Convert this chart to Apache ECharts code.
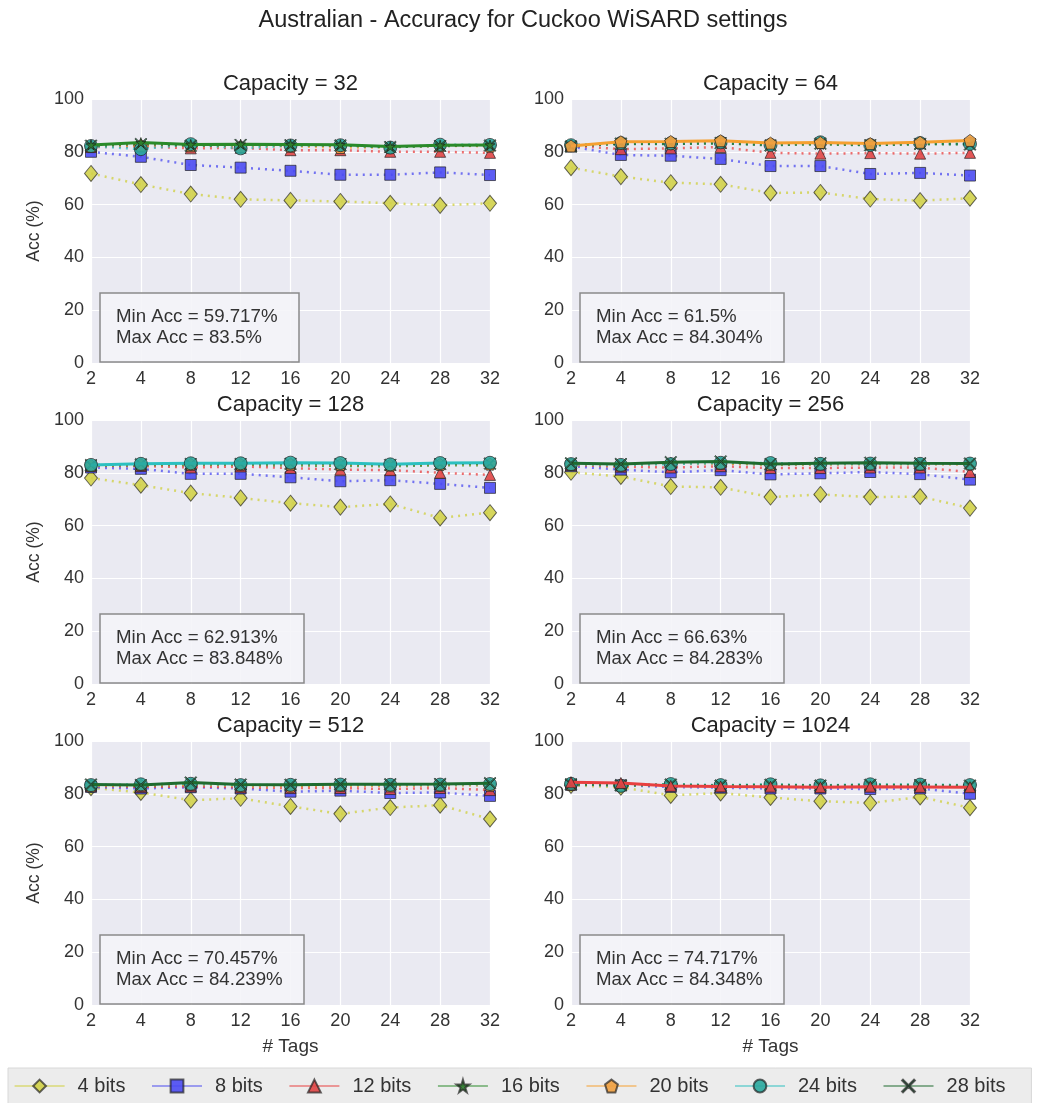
<!DOCTYPE html>
<html><head><meta charset="utf-8">
<script src="https://cdn.jsdelivr.net/npm/echarts@6/dist/echarts.min.js"></script>
<style>html,body{margin:0;padding:0;background:#fff}#c{width:1046px;height:1103px}</style>
</head><body><div id="c"></div><script>
// ---- data ----
const tags = ['2','4','8','12','16','20','24','28','32'];
const bitNames = ['4 bits','8 bits','12 bits','16 bits','20 bits','24 bits','28 bits'];
const capacities = [32, 64, 128, 256, 512, 1024];
// rows: 4,8,12,16,20,24,28 bits ; columns: tags
const cap32 = [
  [71.8, 67.6, 64.0, 62.0, 61.6, 61.2, 60.5, 59.717, 60.5],
  [80.0, 78.1, 75.0, 74.0, 72.8, 71.3, 71.3, 72.2, 71.2],
  [81.8, 82.0, 81.3, 81.5, 80.6, 80.6, 80.0, 80.0, 79.6],
  [82.6, 83.5, 82.8, 82.9, 82.8, 82.7, 82.0, 82.5, 82.6],
  [82.0, 82.5, 82.3, 82.0, 82.1, 81.6, 81.7, 82.3, 82.1],
  [82.2, 81.0, 82.9, 81.3, 82.4, 82.5, 81.6, 82.7, 82.6],
  [82.3, 82.9, 82.3, 82.6, 82.5, 82.4, 81.8, 82.2, 82.4]
];
const cap64 = [
  [74.0, 70.6, 68.3, 67.7, 64.4, 64.6, 62.1, 61.5, 62.4],
  [82.0, 78.8, 78.5, 77.3, 74.6, 74.6, 71.6, 72.0, 71.0],
  [82.3, 81.0, 81.3, 81.8, 79.6, 79.3, 79.5, 79.3, 79.6],
  [82.5, 83.0, 83.0, 83.2, 82.7, 82.8, 82.5, 82.9, 83.0],
  [82.2, 83.8, 83.9, 84.2, 83.3, 83.5, 83.1, 83.6, 84.304],
  [82.5, 83.3, 83.2, 83.6, 82.6, 83.6, 82.6, 83.3, 83.0],
  [82.0, 83.1, 83.0, 83.3, 82.4, 83.1, 82.5, 83.0, 82.8]
];
const cap128 = [
  [78.0, 75.3, 72.3, 70.5, 68.5, 67.0, 68.2, 62.913, 64.9],
  [82.0, 81.5, 79.6, 79.6, 78.3, 76.8, 77.2, 75.8, 74.3],
  [82.6, 82.6, 82.0, 82.4, 81.8, 81.2, 81.0, 80.0, 79.2],
  [82.7, 82.9, 83.0, 83.1, 82.8, 82.6, 82.5, 82.8, 82.9],
  [82.8, 83.1, 83.2, 83.2, 83.3, 83.1, 82.9, 83.2, 83.3],
  [83.0, 83.4, 83.6, 83.6, 83.848, 83.7, 83.2, 83.7, 83.8],
  [82.9, 83.2, 83.3, 83.3, 83.4, 83.3, 83.0, 83.3, 83.5]
];
const cap256 = [
  [80.2, 78.6, 74.8, 74.5, 70.8, 71.8, 70.8, 71.0, 66.63],
  [82.5, 81.2, 80.2, 81.0, 79.4, 79.8, 80.3, 79.5, 77.4],
  [83.0, 82.3, 82.0, 82.5, 81.8, 81.8, 82.0, 82.0, 80.3],
  [83.3, 82.8, 83.6, 83.6, 83.0, 83.2, 83.4, 83.3, 83.3],
  [83.2, 82.9, 83.5, 83.5, 83.2, 83.3, 83.2, 83.2, 83.3],
  [83.3, 83.0, 83.3, 83.8, 83.7, 83.4, 83.5, 83.4, 83.5],
  [83.6, 83.3, 84.0, 84.283, 83.3, 83.6, 83.8, 83.6, 83.5]
];
const cap512 = [
  [82.3, 80.5, 77.6, 78.3, 75.2, 72.4, 74.8, 75.7, 70.457],
  [82.6, 82.0, 82.5, 82.0, 80.8, 81.2, 80.3, 80.5, 79.2],
  [83.0, 82.6, 82.8, 82.4, 82.2, 82.2, 81.8, 82.2, 81.4],
  [83.2, 83.0, 83.6, 83.2, 83.0, 83.2, 83.2, 83.3, 83.4],
  [83.0, 83.2, 83.5, 83.0, 82.9, 83.1, 83.0, 83.2, 83.2],
  [83.3, 83.6, 83.8, 83.3, 83.4, 83.5, 83.4, 83.5, 83.7],
  [83.5, 83.3, 84.239, 83.5, 83.4, 83.6, 83.6, 83.7, 84.0]
];
const cap1024 = [
  [83.2, 82.5, 79.4, 80.3, 78.6, 77.2, 76.5, 78.8, 74.717],
  [83.4, 83.2, 82.6, 82.3, 82.0, 82.0, 81.8, 82.0, 80.0],
  [84.348, 84.1, 83.0, 82.8, 82.7, 82.5, 82.7, 82.6, 82.5],
  [83.6, 83.3, 83.3, 83.0, 83.1, 83.0, 83.2, 83.0, 82.9],
  [83.5, 83.2, 83.4, 83.0, 83.3, 82.9, 83.1, 83.2, 83.0],
  [83.8, 83.0, 83.7, 83.3, 83.6, 83.2, 83.6, 83.5, 83.3],
  [83.6, 83.2, 83.5, 83.1, 83.4, 83.1, 83.4, 83.3, 83.1]
];
const panelData = [cap32, cap64, cap128, cap256, cap512, cap1024];
const yTicks = [0, 20, 40, 60, 80, 100];

// ---- styles ----
const FONT = 'Liberation Sans, Arial, sans-serif';
const colors = ['#cfcf3c', '#4a4af0', '#e84040', '#2a8a2a', '#f5a030', '#2cc0c0', '#1f6b2f'];
const markerColors = ['#d2d24a', '#4b4bf2', '#e04545', '#2e7d2e', '#f0a040', '#2aa89e', '#2d7a4a'];
const symbols = [
  'diamond', 'rect', 'triangle',
  'path://M50,0 L61,35 L98,35 L68,57 L79,91 L50,70 L21,91 L32,57 L2,35 L39,35 Z',
  'path://M50,0 L100,38 L81,100 L19,100 L0,38 Z',
  'circle',
  'path://M7,0 L50,43 L93,0 L100,7 L57,50 L100,93 L93,100 L50,57 L7,100 L0,93 L43,50 L0,7 Z'
];
const symbolSizes = [[13, 16], 11, 11, 10, 12, 13, 12];
const bestIdx = [3, 4, 5, 6, 6, 2];

const colLeft = [91, 571];
const rowTop = [99, 420, 741];
const gw = 399, gh = 264;

const grids = [], xAxes = [], yAxes = [], series = [];
const titles = [{
  text: 'Australian - Accuracy for Cuckoo WiSARD settings',
  left: 'center', top: 4,
  textStyle: {fontFamily: FONT, fontSize: 23.5, fontWeight: 'normal', color: '#222'}
}];

function fmt(v) { return String(Number(v.toFixed(3))); }

capacities.forEach((cap, i) => {
  const col = i % 2, row = Math.floor(i / 2);
  const L = colLeft[col], T = rowTop[row];
  grids.push({left: L, top: T, width: gw, height: gh, show: true,
    backgroundColor: '#eaeaf2', borderWidth: 0, containLabel: false});
  xAxes.push({
    gridIndex: i, type: 'category', data: tags, boundaryGap: false,
    axisLine: {show: false}, axisTick: {show: false},
    axisLabel: {fontFamily: FONT, fontSize: 18, color: '#333', margin: 7},
    splitLine: {show: true, lineStyle: {color: '#ffffff', width: 1.2}},
    name: row === 2 ? '# Tags' : '', nameLocation: 'middle', nameGap: 32,
    nameTextStyle: {fontFamily: FONT, fontSize: 19, color: '#333'}
  });
  xAxes.push({
    gridIndex: i, type: 'category', data: tags, position: 'top', boundaryGap: false,
    axisLine: {show: false}, axisTick: {show: false}, axisLabel: {show: false},
    splitLine: {show: false},
    name: 'Capacity = ' + cap, nameLocation: 'middle', nameGap: 4,
    nameTextStyle: {fontFamily: FONT, fontSize: 22, color: '#222'}
  });
  yAxes.push({
    gridIndex: i, type: 'value', min: yTicks[0], max: yTicks[yTicks.length - 1], interval: 20,
    axisLine: {show: false}, axisTick: {show: false},
    axisLabel: {fontFamily: FONT, fontSize: 18, color: '#333', margin: 7, padding: [0, 0, 7, 0]},
    splitLine: {show: true, lineStyle: {color: '#ffffff', width: 1.2}},
    name: col === 0 ? 'Acc (%)' : '', nameLocation: 'middle', nameGap: 48,
    nameTextStyle: {fontFamily: FONT, fontSize: 17.5, color: '#333'}
  });
  const d = panelData[i];
  let mn = Infinity, mx = -Infinity;
  d.forEach(r => r.forEach(v => { mn = Math.min(mn, v); mx = Math.max(mx, v); }));
  d.forEach((vals, k) => {
    const best = k === bestIdx[i];
    series.push({
      name: bitNames[k], type: 'line', xAxisIndex: 2 * i, yAxisIndex: i,
      data: vals, symbol: symbols[k], symbolSize: symbolSizes[k],
      showSymbol: true, z: best ? 4 : 2,
      lineStyle: best ? {color: colors[k], width: 3, type: 'solid', opacity: 1}
                      : {color: colors[k], width: 2.5, type: [2, 5], opacity: 0.75},
      itemStyle: {color: markerColors[k], borderColor: 'rgba(30,30,30,0.75)', borderWidth: 1, opacity: 0.9},
      emphasis: {disabled: true}
    });
  });
  titles.push({
    text: 'Min Acc = ' + fmt(mn) + '%\nMax Acc = ' + fmt(mx) + '%',
    left: L + 9, top: T + 194,
    backgroundColor: 'rgba(244,244,248,0.9)', borderColor: '#8a8a8a', borderWidth: 1.5,
    padding: [13, 22, 14, 16],
    textStyle: {fontFamily: FONT, fontSize: 18.7, fontWeight: 'normal', color: '#333', lineHeight: 21}
  });
});

const chart = echarts.init(document.getElementById('c'), null, {renderer: 'canvas'});
chart.setOption({
  animation: false,
  backgroundColor: '#ffffff',
  title: titles,
  grid: grids, xAxis: xAxes, yAxis: yAxes, series: series,
  legend: {
    data: bitNames, left: 8, top: 1068,
    backgroundColor: '#ececec', borderColor: '#d8d8d8', borderWidth: 1,
    padding: [8, 26, 8, 6],
    itemWidth: 50, itemHeight: 16, itemGap: 26,
    lineStyle: {type: 'solid', width: 1.2, opacity: 1},
    textStyle: {fontFamily: FONT, fontSize: 20, color: '#333', padding: [0, 0, 0, 8]}
  }
});
</script></body></html>
